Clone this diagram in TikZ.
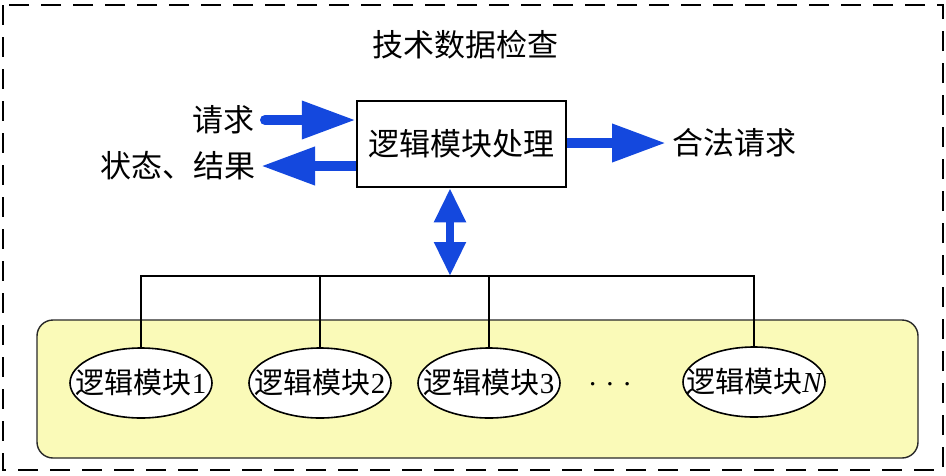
\documentclass[tikz,border=0pt]{standalone}
\usepackage{fontspec}
\setmainfont{Liberation Serif}
\newfontfamily\cjk{Noto Sans CJK SC}
\usetikzlibrary{arrows.meta,shapes.geometric}
\definecolor{arrowblue}{RGB}{20,72,222}
\definecolor{paleyellow}{RGB}{250,250,184}
\definecolor{edgegray}{RGB}{40,40,40}
\tikzset{
  txt/.style={font=\fontsize{31}{32}\selectfont\cjk, inner sep=0pt},
  mtxt/.style={font=\fontsize{29}{30}\selectfont\cjk, inner sep=0pt},
  procbox/.style={draw=black, line width=2.5pt, fill=white, minimum width=209pt, minimum height=86pt, inner sep=0pt},
  modell/.style={ellipse, draw=black, line width=1.6pt, fill=white, minimum width=142pt, minimum height=70pt, inner sep=0pt},
  fatarrow/.style={draw=arrowblue, line width=10pt, line cap=round, -{Triangle[length=54pt,width=36pt]}},
  dblarrow/.style={draw=arrowblue, line width=8pt, {Triangle[length=34pt,width=30pt]}-{Triangle[length=34pt,width=30pt]}},
  bus/.style={draw=black, line width=2.2pt},
}
\begin{document}
\begin{tikzpicture}[x=1pt,y=-1pt]
\useasboundingbox (0,0) rectangle (946,475);
% outer dashed frame
\draw[line width=2.6pt, dash pattern=on 20pt off 12pt] (3,5) rectangle (943,470);
% title
\node[txt] (title) at (465,45) {技术数据检查};
% yellow container
\draw[draw=edgegray, line width=1.4pt, fill=paleyellow, rounded corners=16pt] (37,320) rectangle (918,458);
% processing box
\node[procbox] (box) at (461.5,144) {};
\node[txt] (boxtxt) at (box.center) {逻辑模块处理};
% arrows
\coordinate (reqstart) at (265,120);
\draw[fatarrow] (reqstart) -- (box.west |- reqstart);
\coordinate (resend) at (261,166);
\draw[fatarrow, line cap=butt] (box.west |- resend) -- (resend);
\coordinate (legalend) at (666,143);
\draw[fatarrow, line cap=butt] (box.east |- legalend) -- (legalend);
% side texts
\node[txt, anchor=east] (req) at ([xshift=-10pt]reqstart) {请求};
\node[txt, anchor=east] (res) at ([xshift=-5pt]resend) {状态、结果};
\node[txt, anchor=west] (legal) at ([xshift=6pt]legalend) {合法请求};
% bus
\coordinate (busc) at (450,276);
\draw[dblarrow] (box.south -| busc) -- (busc);
% modules
\node[modell, label={[mtxt]center:逻辑模块\fontspec{Liberation Serif}1}] (m1) at (141,383) {};
\node[modell, label={[mtxt]center:逻辑模块\fontspec{Liberation Serif}2}] (m2) at (320,383) {};
\node[modell, label={[mtxt]center:逻辑模块\fontspec{Liberation Serif}3}] (m3) at (489,383) {};
\node[modell, label={[mtxt]center:逻辑模块\fontspec{Liberation Serif}\itshape N}] (m4) at (754,382) {};
\node[font=\fontsize{29}{30}\selectfont, inner sep=0pt] (dots) at (610,384) {.\hspace{10pt}.\hspace{10pt}.};
\draw[bus] (m1.north) |- (busc) -- (busc -| m4.north) -- (m4.north);
\draw[bus] (m2.north) -- (m2.north |- busc);
\draw[bus] (m3.north) -- (m3.north |- busc);
\end{tikzpicture}
\end{document}
